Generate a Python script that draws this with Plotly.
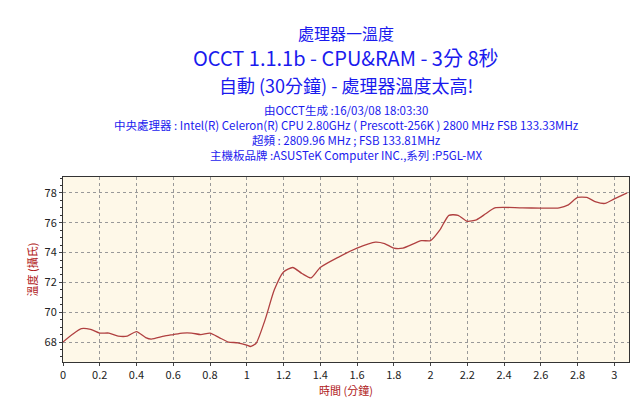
import plotly.graph_objects as go

time_min = [0, 0.05, 0.1, 0.15, 0.2, 0.25, 0.3, 0.35, 0.4, 0.45, 0.48, 0.55, 0.6, 0.65, 0.7, 0.75, 0.8, 0.85, 0.9, 0.95, 1.0, 1.02, 1.05, 1.1, 1.15, 1.2, 1.25, 1.3, 1.35, 1.4, 1.5, 1.6, 1.7, 1.75, 1.8, 1.85, 1.95, 2.0, 2.05, 2.1, 2.15, 2.2, 2.25, 2.3, 2.35, 2.5, 2.7, 2.75, 2.8, 2.85, 2.9, 2.95, 3.0, 3.07]
temp_c = [68.0, 68.5, 68.9, 68.85, 68.6, 68.6, 68.4, 68.4, 68.7, 68.3, 68.2, 68.4, 68.5, 68.6, 68.6, 68.5, 68.6, 68.3, 68.0, 67.95, 67.8, 67.7, 67.9, 69.5, 71.5, 72.7, 73.0, 72.6, 72.3, 73.0, 73.7, 74.3, 74.7, 74.6, 74.3, 74.3, 74.8, 74.8, 75.5, 76.5, 76.5, 76.1, 76.2, 76.6, 77.0, 77.0, 77.0, 77.2, 77.7, 77.7, 77.4, 77.3, 77.6, 78.0]

title_lines = [
    ("處理器一溫度", 16, 25),
    ("OCCT 1.1.1b - CPU&RAM - 3分 8秒", 20, 49),
    ("自動 (30分鐘) - 處理器溫度太高!", 18, 77),
    ("由OCCT生成 :16/03/08 18:03:30", 11.5, 102),
    ("中央處理器 : Intel(R) Celeron(R) CPU 2.80GHz ( Prescott-256K ) 2800 MHz FSB 133.33MHz", 11.5, 117),
    ("超頻 : 2809.96 MHz ; FSB 133.81MHz", 11.5, 132),
    ("主機板品牌 :ASUSTeK Computer INC.,系列 :P5GL-MX", 11.5, 147),
]

FONT = "Noto Sans CJK TC, DejaVu Sans, sans-serif"
fig = go.Figure(go.Scatter(x=time_min, y=temp_c, mode="lines",
                           line=dict(color="#b04040", width=1.3, shape="spline", smoothing=0.6),
                           hoverinfo="skip"))

T, B = 169, 354
ann = []
for text, size, py in title_lines:
    ann.append(dict(text=text, x=0.5, xref="paper", y=(B - py) / (B - T), yref="paper",
                    yanchor="middle", xanchor="center", showarrow=False,
                    font=dict(family=FONT, size=size, color="#1a1aee")))

fig.update_layout(
    width=640, height=404, margin=dict(l=55, r=19, t=T, b=404 - B, autoexpand=False),
    paper_bgcolor="white", plot_bgcolor="#fef8e8", showlegend=False,
    annotations=ann, font=dict(family=FONT, size=11, color="#222"),
    xaxis=dict(range=[0, 3.08], automargin=False,
               tickvals=[0, 0.2, 0.4, 0.6, 0.8, 1, 1.2, 1.4, 1.6, 1.8, 2, 2.2, 2.4, 2.6, 2.8, 3],
               ticktext=["0", "0.2", "0.4", "0.6", "0.8", "1", "1.2", "1.4", "1.6", "1.8", "2", "2.2", "2.4", "2.6", "2.8", "3"],
               showgrid=True, gridcolor="#999", griddash="dot", gridwidth=1,
               showline=True, linecolor="#333", mirror=True, ticks="outside", ticklen=3,
               zeroline=False, title=dict(text="時間 (分鐘)", font=dict(color="#b02020", size=11), standoff=2)),
    yaxis=dict(range=[66.66, 79.07], automargin=False, tickvals=[68, 70, 72, 74, 76, 78],
               showgrid=True, gridcolor="#999", griddash="dot", gridwidth=1,
               showline=True, linecolor="#333", mirror=True, ticks="outside", ticklen=3,
               minor=dict(dtick=0.5, ticks="outside", ticklen=2, tickcolor="#333"),
               zeroline=False, title=dict(text="溫度 (攝氏)", font=dict(color="#b02020", size=11), standoff=4)),
)
fig.write_html("out.html")
